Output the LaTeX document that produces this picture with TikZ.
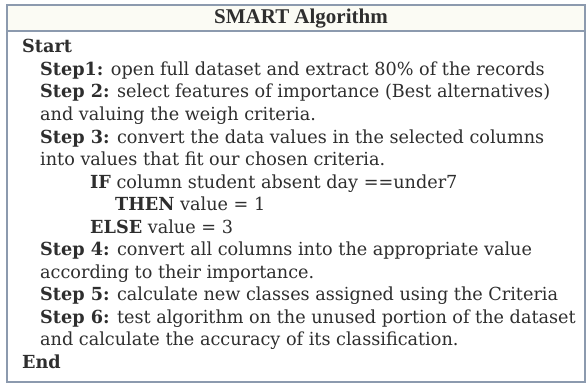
\documentclass[tikz,border=0pt]{standalone}
\usepackage{fontspec}
\setmainfont{DejaVu Serif}[FakeStretch=0.98]
\newfontfamily\titlefont{Liberation Serif}
\definecolor{frame}{HTML}{8C9AAE}
\definecolor{titlebg}{HTML}{FBFBF4}
\definecolor{ink}{HTML}{2E2E2E}
\tikzset{
  line/.style={anchor=base west, inner sep=0pt, text=ink, font=\fontsize{18}{22}\selectfont},
  titletext/.style={inner sep=0pt, text=ink, font=\titlefont\bfseries\fontsize{21}{24}\selectfont}
}
\begin{document}
\begin{tikzpicture}[x=1pt,y=-1pt]
\useasboundingbox (0,0) rectangle (588,385);
\fill[white] (0,0) rectangle (588,385);
\fill[titlebg] (7,5) rectangle (585,31);
\draw[frame, line width=1.6pt] (7,5) rectangle (585,382);
\draw[frame, line width=1.6pt] (7,31) -- (585,31);
\node[titletext] (title) at (301,19) {SMART Algorithm};
\node[line] (start) at (22,53) {\textbf{Start}};
\node[line] (s1) at (40,75.5) {\textbf{Step1:} open full dataset and extract 80\% of the records};
\node[line] (s2) at (40,98) {\textbf{Step 2:} select features of importance (Best alternatives)};
\node[line] (s2b) at (40,120.5) {and valuing the weigh criteria.};
\node[line] (s3) at (40,143) {\textbf{Step 3:} convert the data values in the selected columns};
\node[line] (s3b) at (40,165.5) {into values that fit our chosen criteria.};
\node[line] (if) at (90,188) {\textbf{IF} column student absent day ==under7};
\node[line] (then) at (115,210.5) {\textbf{THEN} value = 1};
\node[line] (else) at (90,233) {\textbf{ELSE} value = 3};
\node[line] (s4) at (40,255.5) {\textbf{Step 4:} convert all columns into the appropriate value};
\node[line] (s4b) at (40,278) {according to their importance.};
\node[line] (s5) at (40,300.5) {\textbf{Step 5:} calculate new classes assigned using the Criteria};
\node[line] (s6) at (40,323) {\textbf{Step 6:} test algorithm on the unused portion of the dataset};
\node[line] (s6b) at (40,345.5) {and calculate the accuracy of its classification.};
\node[line] (end) at (22,368) {\textbf{End}};
\end{tikzpicture}
\end{document}
